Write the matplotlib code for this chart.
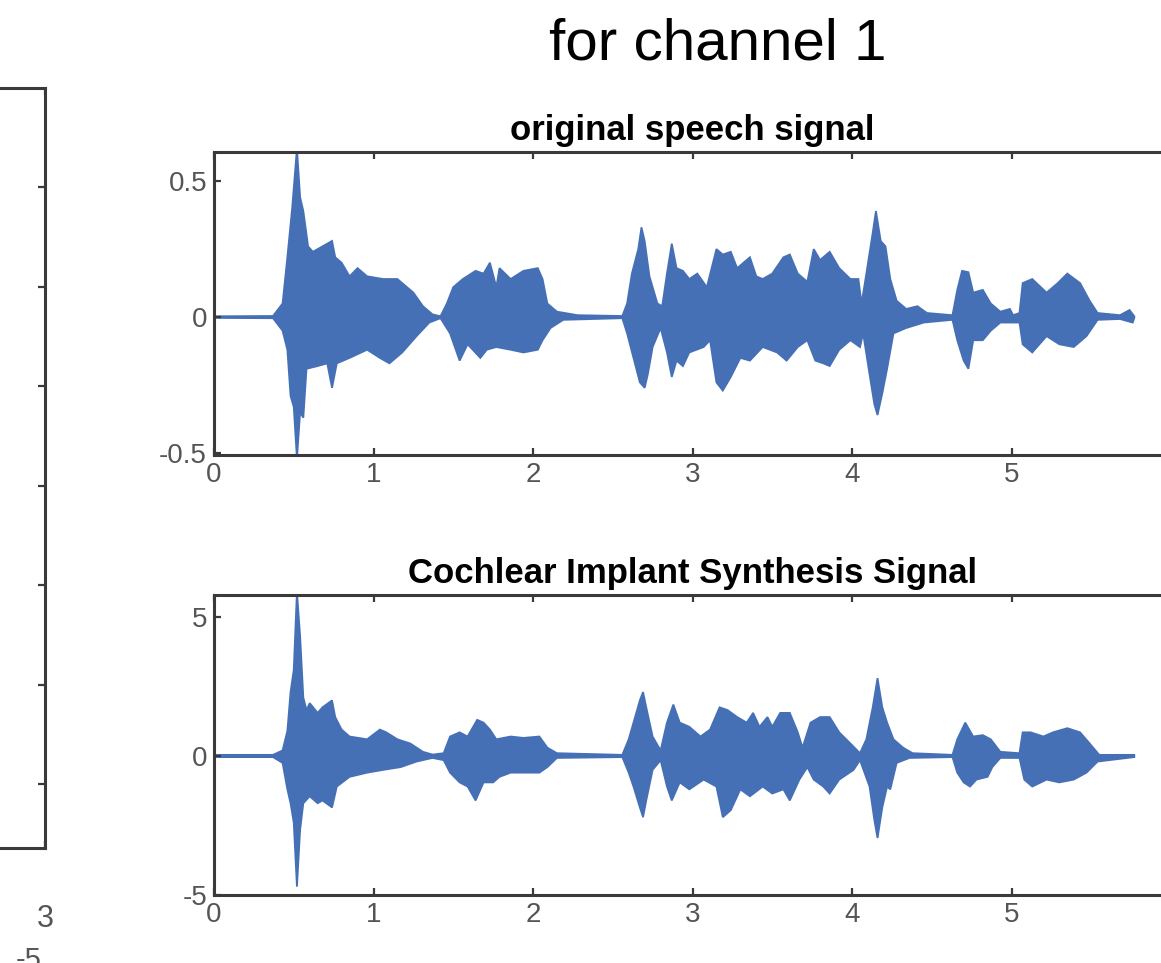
import numpy as np
import matplotlib
matplotlib.use("Agg")
import matplotlib.pyplot as plt

plt.rcParams['font.family'] = ['Liberation Sans', 'DejaVu Sans']
plt.rcParams['axes.unicode_minus'] = False

# envelope of the original speech signal (upper / lower edge), x in axis units
orig_up_x = [0, 0.37, 0.43, 0.46, 0.49, 0.52, 0.54, 0.56, 0.59, 0.62, 0.68, 0.74, 0.76, 0.80,
             0.85, 0.90, 0.96, 1.06, 1.15, 1.18, 1.25, 1.31, 1.37, 1.42, 1.46, 1.50, 1.56,
             1.64, 1.69, 1.73, 1.77, 1.79, 1.86, 1.94, 2.03, 2.06, 2.09, 2.15, 2.28, 2.56,
             2.59, 2.62, 2.66, 2.68, 2.70, 2.73, 2.78, 2.81, 2.84, 2.87, 2.90, 2.94, 2.98,
             3.03, 3.09, 3.15, 3.19, 3.24, 3.28, 3.32, 3.36, 3.40, 3.44, 3.50, 3.57, 3.61,
             3.66, 3.72, 3.76, 3.80, 3.86, 3.92, 3.99, 4.04, 4.06, 4.09, 4.13, 4.15, 4.18,
             4.21, 4.24, 4.28, 4.34, 4.41, 4.47, 4.63, 4.66, 4.69, 4.73, 4.76, 4.82, 4.87,
             4.93, 4.99, 5.01, 5.05, 5.07, 5.13, 5.22, 5.29, 5.35, 5.43, 5.49, 5.54, 5.68,
             5.74, 5.77]
orig_up_y = [0.003, 0.004, 0.05, 0.22, 0.40, 0.62, 0.44, 0.39, 0.26, 0.24, 0.26, 0.28, 0.22, 0.20,
             0.15, 0.18, 0.15, 0.14, 0.14, 0.125, 0.09, 0.04, 0.01, 0.003, 0.05, 0.11, 0.14,
             0.17, 0.16, 0.20, 0.11, 0.18, 0.14, 0.17, 0.18, 0.14, 0.05, 0.02, 0.007, 0.004,
             0.05, 0.16, 0.25, 0.33, 0.28, 0.15, 0.05, 0.04, 0.16, 0.27, 0.18, 0.17, 0.14,
             0.16, 0.11, 0.25, 0.23, 0.24, 0.18, 0.20, 0.22, 0.15, 0.14, 0.16, 0.22, 0.23,
             0.16, 0.13, 0.25, 0.21, 0.24, 0.18, 0.14, 0.14, 0.05, 0.16, 0.31, 0.39, 0.28,
             0.26, 0.14, 0.06, 0.03, 0.04, 0.015, 0.007, 0.10, 0.17, 0.165, 0.09, 0.10, 0.05,
             0.02, 0.03, 0.007, 0.015, 0.125, 0.14, 0.09, 0.125, 0.16, 0.125, 0.06, 0.015, 0.007,
             0.026, 0.003]
orig_lo_x = [0, 0.37, 0.43, 0.46, 0.48, 0.50, 0.52, 0.54, 0.56, 0.58, 0.65, 0.71, 0.74, 0.77,
             0.85, 0.96, 1.04, 1.10, 1.18, 1.27, 1.35, 1.42, 1.48, 1.54, 1.59, 1.67, 1.71,
             1.77, 1.86, 1.94, 2.03, 2.06, 2.11, 2.19, 2.56, 2.59, 2.63, 2.67, 2.70, 2.72,
             2.75, 2.80, 2.84, 2.87, 2.90, 2.94, 2.98, 3.07, 3.11, 3.15, 3.19, 3.24, 3.30,
             3.36, 3.44, 3.53, 3.59, 3.66, 3.72, 3.77, 3.82, 3.86, 3.92, 3.99, 4.05, 4.07,
             4.11, 4.14, 4.16, 4.19, 4.22, 4.26, 4.34, 4.45, 4.63, 4.66, 4.70, 4.73, 4.76,
             4.82, 4.87, 4.93, 5.05, 5.07, 5.13, 5.22, 5.30, 5.39, 5.47, 5.54, 5.68, 5.76, 5.77]
orig_lo_y = [-0.003, -0.004, -0.05, -0.12, -0.29, -0.33, -0.52, -0.35, -0.37, -0.19, -0.18, -0.17,
             -0.26, -0.17, -0.15, -0.12, -0.15, -0.17, -0.13, -0.07, -0.02, -0.004, -0.06, -0.16,
             -0.10, -0.15, -0.12, -0.11, -0.12, -0.13, -0.12, -0.085, -0.04, -0.01, -0.004,
             -0.06, -0.15, -0.24, -0.26, -0.21, -0.11, -0.04, -0.13, -0.22, -0.16, -0.18, -0.13,
             -0.11, -0.085, -0.24, -0.27, -0.22, -0.15, -0.16, -0.11, -0.13, -0.16, -0.11, -0.085,
             -0.16, -0.17, -0.18, -0.12, -0.085, -0.11, -0.06, -0.21, -0.32, -0.36, -0.28, -0.19,
             -0.06, -0.04, -0.02, -0.01, -0.085, -0.16, -0.19, -0.085, -0.085, -0.05, -0.02,
             -0.02, -0.10, -0.13, -0.07, -0.10, -0.11, -0.07, -0.01, -0.007, -0.02, -0.003]

# envelope of the cochlear implant synthesis signal
ci_up_x = [0, 0.37, 0.43, 0.46, 0.48, 0.50, 0.52, 0.54, 0.56, 0.58, 0.60, 0.65, 0.68, 0.74,
           0.76, 0.80, 0.85, 0.96, 1.04, 1.08, 1.15, 1.23, 1.31, 1.37, 1.44, 1.48, 1.54,
           1.59, 1.65, 1.69, 1.73, 1.77, 1.86, 1.94, 2.04, 2.09, 2.15, 2.56, 2.60, 2.63,
           2.67, 2.69, 2.71, 2.75, 2.80, 2.84, 2.88, 2.92, 2.98, 3.05, 3.11, 3.17, 3.22,
           3.28, 3.34, 3.38, 3.42, 3.47, 3.50, 3.55, 3.61, 3.66, 3.69, 3.74, 3.80, 3.86,
           3.92, 3.99, 4.05, 4.09, 4.13, 4.16, 4.19, 4.22, 4.26, 4.32, 4.38, 4.63, 4.66,
           4.71, 4.76, 4.82, 4.87, 4.93, 5.05, 5.07, 5.12, 5.20, 5.26, 5.35, 5.43, 5.49,
           5.55, 5.77]
ci_up_y = [0.04, 0.04, 0.2, 0.9, 2.3, 3.1, 5.9, 4.3, 2.1, 1.65, 1.9, 1.55, 1.75, 2.0,
           1.4, 0.95, 0.7, 0.6, 0.95, 0.85, 0.6, 0.45, 0.15, 0.05, 0.1, 0.7, 0.85,
           0.7, 1.3, 1.2, 0.95, 0.6, 0.7, 0.65, 0.7, 0.3, 0.1, 0.04, 0.6, 1.2,
           2.0, 2.3, 1.75, 0.7, 0.2, 1.2, 1.85, 1.2, 1.05, 0.7, 0.95, 1.75, 1.65,
           1.4, 1.2, 1.55, 1.05, 1.4, 1.05, 1.55, 1.55, 0.85, 0.3, 1.2, 1.4, 1.4,
           0.85, 0.45, 0.1, 0.6, 1.75, 2.8, 1.75, 1.2, 0.6, 0.3, 0.1, 0.04, 0.6,
           1.2, 0.7, 0.75, 0.6, 0.15, 0.1, 0.85, 0.85, 0.7, 0.85, 1.0, 0.85, 0.45,
           0.04, 0.04]
ci_lo_x = [0, 0.37, 0.43, 0.46, 0.48, 0.50, 0.52, 0.54, 0.56, 0.60, 0.65, 0.68, 0.74, 0.77,
           0.85, 0.96, 1.06, 1.17, 1.27, 1.37, 1.44, 1.48, 1.54, 1.59, 1.64, 1.69, 1.75,
           1.79, 1.86, 1.94, 2.04, 2.09, 2.15, 2.56, 2.60, 2.63, 2.67, 2.69, 2.71, 2.75,
           2.80, 2.84, 2.87, 2.92, 2.98, 3.07, 3.15, 3.19, 3.24, 3.30, 3.36, 3.44, 3.50,
           3.57, 3.61, 3.67, 3.72, 3.76, 3.82, 3.86, 3.92, 4.01, 4.05, 4.11, 4.14, 4.16,
           4.19, 4.22, 4.24, 4.28, 4.36, 4.63, 4.66, 4.70, 4.74, 4.78, 4.85, 4.88, 4.93,
           5.05, 5.08, 5.13, 5.22, 5.30, 5.39, 5.47, 5.54, 5.77]
ci_lo_y = [-0.04, -0.04, -0.25, -1.2, -1.7, -2.4, -4.7, -2.65, -1.7, -1.45, -1.7, -1.6, -1.85,
           -1.1, -0.75, -0.6, -0.5, -0.4, -0.2, -0.07, -0.15, -0.6, -0.95, -1.1, -1.6, -0.95,
           -0.95, -0.75, -0.6, -0.6, -0.6, -0.4, -0.07, -0.04, -0.6, -1.1, -1.85, -2.2, -1.6,
           -0.5, -0.15, -1.1, -1.6, -0.95, -1.2, -0.85, -1.1, -2.2, -1.95, -1.2, -1.45, -1.1,
           -1.35, -1.2, -1.6, -0.85, -0.4, -0.85, -1.1, -1.35, -0.85, -0.5, -0.15, -1.1, -2.3,
           -2.95, -1.85, -1.1, -1.2, -0.25, -0.07, -0.04, -0.6, -0.95, -1.1, -0.85, -0.75,
           -0.4, -0.07, -0.07, -0.85, -1.1, -0.85, -0.95, -0.85, -0.6, -0.2, -0.04]

x_ticks = [0, 1, 2, 3, 4, 5]
wave_color = '#4670b6'
spine_color = '#3a3a3a'
label_color = '#555555'

W, H = 1161, 963
fig = plt.figure(figsize=(W / 100, H / 100), dpi=100)


def style(ax):
    for s in ax.spines.values():
        s.set_linewidth(2.2)
        s.set_color(spine_color)
    ax.tick_params(direction='in', length=5, width=1.6, color=spine_color,
                   top=True, right=True, labelsize=20, labelcolor=label_color, pad=5)


def draw_wave(ax, ux, uy, lx, ly):
    px = list(ux) + list(lx)[::-1]
    py = list(uy) + list(ly)[::-1]
    ax.fill(px, py, color=wave_color, edgecolor=wave_color, linewidth=1.3)


# top: original speech signal
ax1 = fig.add_axes([214 / W, (H - 455) / H, 957 / W, 303 / H])
draw_wave(ax1, orig_up_x, orig_up_y, orig_lo_x, orig_lo_y)
ax1.set_xlim(0, 6)
ax1.set_ylim(-0.507, 0.607)
ax1.set_xticks(x_ticks)
ax1.set_yticks([-0.5, 0, 0.5])
ax1.set_yticklabels(['-0.5', '0', '0.5'])
style(ax1)
ax1.set_title('original speech signal', fontsize=25, fontweight='bold', pad=9)

# bottom: cochlear implant synthesis
ax2 = fig.add_axes([214 / W, (H - 895) / H, 957 / W, 300 / H])
draw_wave(ax2, ci_up_x, ci_up_y, ci_lo_x, ci_lo_y)
ax2.set_xlim(0, 6)
ax2.set_ylim(-5, 5.79)
ax2.set_xticks(x_ticks)
ax2.set_yticks([-5, 0, 5])
style(ax2)
ax2.set_title('Cochlear Implant Synthesis Signal', fontsize=25, fontweight='bold', pad=9)

# partially visible neighbouring panel on the left
ax0 = fig.add_axes([-0.5, (H - 848) / H, 0.5 + 45 / W, 760 / H])
ax0.set_xlim(0, 3)
ax0.set_ylim(-0.64, 7)
ax0.set_xticks([0, 1, 2, 3])
ax0.set_xticklabels(['', '', '', '3'])
ax0.set_yticks(range(7))
ax0.set_yticklabels([])
style(ax0)
ax0.tick_params(axis='x', pad=40, labelsize=22)
# exponent of that panel's x axis, only its top shows at the lower edge
fig.text(42 / W, (H - 946) / H, '-5', ha='right', va='top',
         fontsize=21, color=label_color)

fig.text(718 / W, (H - 59) / H, 'for channel 1', ha='center', va='baseline',
         fontsize=42, color='black')

fig.savefig('out.png', dpi=100)
